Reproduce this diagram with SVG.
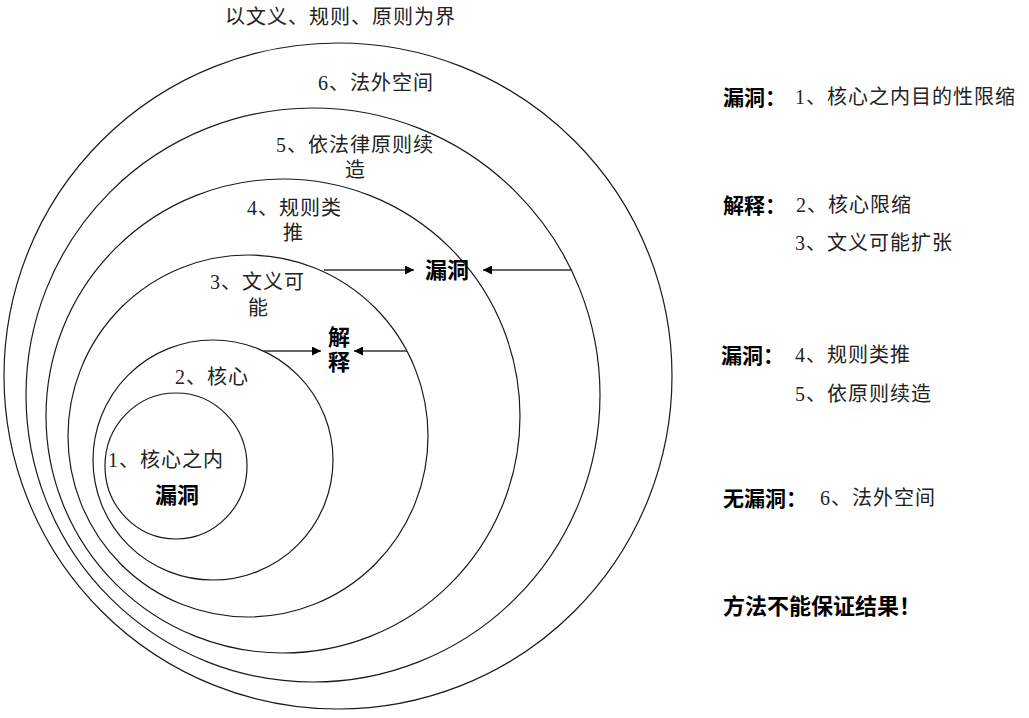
<svg xmlns="http://www.w3.org/2000/svg" width="1029" height="718" viewBox="0 0 1029 718">
<defs>
<style>
.ring{fill:none;stroke:#1a1a1a;stroke-width:1.2}
.t{font-family:"Liberation Serif","Noto Sans CJK SC",serif;font-size:20px;letter-spacing:1px;fill:#222}
.b{font-family:"Noto Sans CJK SC","Liberation Sans",sans-serif;font-weight:bold;fill:#000}
.conn{stroke:#333;stroke-width:1.3;fill:none}
</style>
<marker id="ah" viewBox="0 0 10 10" refX="10" refY="5" markerWidth="9" markerHeight="9" markerUnits="userSpaceOnUse" orient="auto">
<path d="M0,0 L10,5 L0,10 z" fill="#000"/>
</marker>
</defs>
<rect width="1029" height="718" fill="#fff"/>
<text class="t" x="225" y="24">以文义、规则、原则为界</text>
<g id="ring6">
<ellipse class="ring" cx="338" cy="376" rx="334" ry="333"/>
<text class="t" x="318" y="90">6、法外空间</text>
</g>
<g id="ring5">
<ellipse class="ring" cx="313" cy="395" rx="287" ry="287"/>
<text class="t" x="276" y="152">5、依法律原则续</text>
<text class="t" x="345" y="177">造</text>
</g>
<g id="ring4">
<ellipse class="ring" cx="283" cy="416" rx="237" ry="237"/>
<text class="t" x="247" y="215">4、规则类</text>
<text class="t" x="283" y="240">推</text>
</g>
<g id="ring3">
<ellipse class="ring" cx="248" cy="436" rx="180" ry="181"/>
<text class="t" x="210" y="289">3、文义可</text>
<text class="t" x="248" y="315">能</text>
</g>
<g id="ring2">
<ellipse class="ring" cx="213" cy="460" rx="120" ry="120"/>
<text class="t" x="175" y="384">2、核心</text>
</g>
<g id="ring1">
<ellipse class="ring" cx="176" cy="466" rx="71" ry="73"/>
<text class="t" x="108" y="467">1、核心之内</text>
<text class="b" x="155" y="503" font-size="22">漏洞</text>
</g>
<g id="loophole">
<text class="b" x="425" y="278" font-size="22">漏洞</text>
</g>
<g id="interpret">
<text class="b" x="339" y="326" font-size="22" letter-spacing="3" writing-mode="vertical-rl">解释</text>
</g>
<g id="connectors">
<line class="conn" x1="324" y1="270" x2="414" y2="270" marker-end="url(#ah)"/>
<line class="conn" x1="572" y1="270" x2="483" y2="270" marker-end="url(#ah)"/>
<line class="conn" x1="263" y1="351" x2="321" y2="351" marker-end="url(#ah)"/>
<line class="conn" x1="407" y1="351" x2="354" y2="351" marker-end="url(#ah)"/>
</g>
<g id="legend">
<text class="b" x="723" y="105" font-size="21">漏洞：</text>
<text class="t" x="795" y="104">1、核心之内目的性限缩</text>
<text class="b" x="723" y="213" font-size="21">解释：</text>
<text class="t" x="796" y="212">2、核心限缩</text>
<text class="t" x="795" y="250">3、文义可能扩张</text>
<text class="b" x="721" y="363" font-size="21">漏洞：</text>
<text class="t" x="795" y="362">4、规则类推</text>
<text class="t" x="795" y="401">5、依原则续造</text>
<text class="b" x="723" y="506" font-size="21">无漏洞：</text>
<text class="t" x="820" y="505">6、法外空间</text>
<text class="b" x="723" y="614" font-size="22">方法不能保证结果！</text>
</g>
</svg>
